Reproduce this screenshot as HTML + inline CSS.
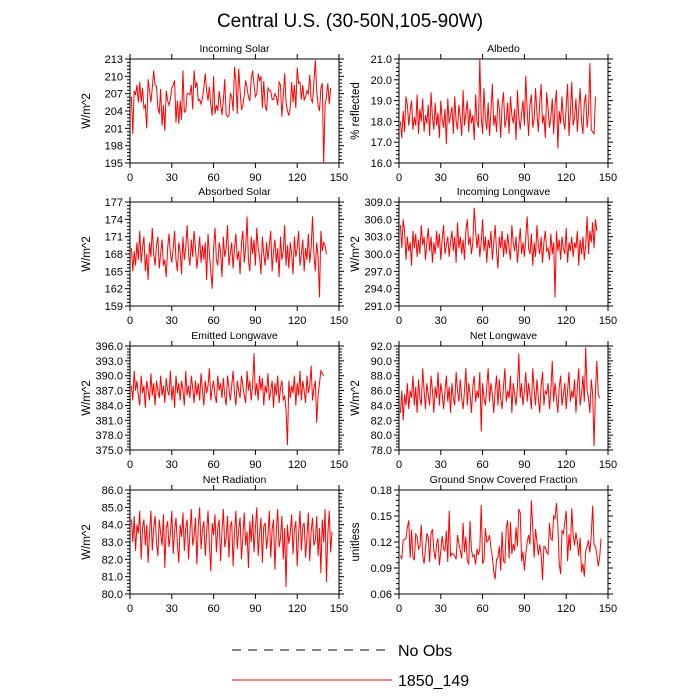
<!DOCTYPE html>
<html><head><meta charset="utf-8"><style>
html,body{margin:0;padding:0;background:#fff;}
svg{display:block;font-family:"Liberation Sans",Arial,sans-serif;}
</style></head><body>
<svg id="chart" width="700" height="700" viewBox="0 0 700 700">
<text x="350" y="27" text-anchor="middle" font-size="19">Central U.S. (30-50N,105-90W)</text>
<g id="panels"></g>
<g>
<line x1="232" y1="650" x2="392" y2="650" stroke="#000" stroke-width="1" stroke-dasharray="9,7"/>
<text x="398" y="656" font-size="16">No Obs</text>
<line x1="232" y1="680" x2="392" y2="680" stroke="#ff0000" stroke-width="1"/>
<text x="398" y="686" font-size="16">1850_149</text>
</g>
</svg>
<script>
const titles = ["Incoming Solar","Albedo","Absorbed Solar","Incoming Longwave","Emitted Longwave","Net Longwave","Net Radiation","Ground Snow Covered Fraction"];
const yTitles = ["W/m^2","% reflected","W/m^2","W/m^2","W/m^2","W/m^2","W/m^2","unitless"];
const yMins = [195,16,159,291,375,78,80,0.06];
const yMaxs = [213,21,177,309,396,92,86,0.18];
const ySteps = [3,1,3,3,3,2,1,0.03];
const yDecimals = [0,1,0,1,1,1,1,2];
const xTicks = [0,30,60,90,120,150];

const incomingSolar = [206.5,200,207.5,206.8,208.5,205.5,209,205.5,208,204.5,205,201,209.5,207.5,205.5,208,211,208.5,208.3,204.5,203.5,207.8,201.5,205,200.5,207.5,205.8,205,206,208,208.5,209.3,202,205.8,201.8,205.8,202.5,211,203.8,204,207,207,206.8,208.5,204.3,211,208,209,205.8,206,205.2,206.2,208,210.5,207.5,205.8,208.2,205,203.2,210,203.5,205,204,207.5,205.5,203.3,205.8,209.5,203.5,203,203.2,207,206.5,204,211.6,209.2,203.5,211.3,207.5,204.2,205,206.8,209.3,208,206.5,205.7,209.5,211,208.5,206.5,207,210.5,209.3,210,204.5,209.2,205,204,208,207.5,207.5,206,206,207,206.5,205,209,208.5,203,206.5,210.5,205.5,204,203.2,204.5,209,205.5,208.5,204.5,211.5,208.8,209,206,208.5,205.8,206.5,207.5,207,210.3,206,205.5,209,212.8,207.5,205,204,208,208.8,195,205,206.5,208.8,205.2,208];
const albedo = [18,17.2,18.5,17.5,19.2,18.8,17.8,18.5,19,17.6,18.2,17.8,19.3,17.4,18.6,18,19.1,17.5,18.3,17.9,18.8,17.3,19.4,18.2,17.6,18.9,17.8,18.4,17.2,19,18.1,17.7,18.6,16.9,19.1,17.9,18.3,18.7,17.4,19.2,18,17.6,18.8,18.2,17.3,19.5,17.8,18.4,19,17.5,18.6,17.9,18.3,17.1,19.3,18,17.7,21,18.2,17.4,19.6,18.1,17.6,18.9,17.3,18.5,19.8,17.8,18.3,17.5,19.1,18.6,17.2,18.8,19.4,17.7,18.1,18.9,17.4,19.2,18.3,17.9,18.6,17.1,19.5,18.2,17.6,18.4,19,17.8,20.2,18.5,17.3,18.8,19.3,17.7,18.1,19.6,18.4,17.5,18.9,19.8,17.9,18.3,17.2,19.4,18.6,17.7,18.2,19.1,17.4,18.8,19.5,16.7,18.5,17.9,19.2,18.1,17.6,18.7,19.8,17.3,18.4,19.9,17.8,18.2,19.1,17.5,18.6,19.6,18,17.4,18.9,19.3,17.7,18.4,20.8,17.6,17.5,17.4,19.2];
const absorbedSolar = [169,165,168.5,166,170,167,172,166.5,169,171,165,168,163.5,170,167.5,172.5,168,166,169.5,171,165.5,168,170.5,166,167,164,169,171.5,168,166.5,169,172,167,165,170,168.5,164.5,171,167,169,173,168,166,170.5,167.5,172,169,165.5,168,171,166.5,169.5,167,170,163.5,171.5,168,165,162,169,172.5,167,166,170,168.5,164,171,167.5,169,173,166,168,170,165.5,169,171.5,167,168.5,164.5,170,172,166.5,169,174.5,167,165,171,168,170.5,166,172.5,169,167.5,164.5,171,168,166,170,167,169.5,172,165,168.5,170.5,166.5,169,164,171,167,168.5,173,166,169.5,165.5,170,168,164.5,171,167.5,169,172,166,168,170.5,165,169,167,171.5,166.5,169,174.5,168,165,170,167.5,160.5,172,168.5,170,169.5,168];
const incomingLW = [305,301,306,304,299,303,300.5,302,298,304,301,303.5,299.5,302.5,300,305,301.5,303,299,302,304.5,300.5,303,298.5,302,300,304,301,303.5,299,302.5,305,300,301.5,303,299.5,302,304,300.5,303,298.5,305.5,301,303,300,302.5,299,304,306,301.5,303,300,302,308,304,301,303.5,299.5,302,306,300.5,303,298.5,302.5,301,304,299,302,305,300.5,297.5,303,301,304,299.5,302.5,300,303.5,301,299,305,302,300.5,303,298.5,301.5,304.5,300,302,299.5,303,306.5,301,300,303.5,298,302,299.5,305,301.5,300,303,298.5,302,304,300.5,301,299,303.5,300,302,292.5,304,300.5,302.5,299,303,301,300,304.5,298.5,302,300.5,303,299.5,302,301,304,298,302.5,300,303,299,301.5,306.5,300,304,302,305.5,301,306,304];
const emittedLW = [388,385,391,387,389,386,384,390,386.5,388,383.5,389,387,385,390.5,386,388.5,384,389,387,385.5,390,386,388,384.5,389.5,387,386,391,385,388,383.5,390,386.5,388.5,385,389,387,384,391,386,388,385.5,390,387.5,384.5,389,386,388.5,385,390.5,387,384,389,386.5,388,391.5,385,387.5,389,386,384.5,390,387,388.5,385.5,389.5,386,384,390,387.5,385,388,391,386.5,384,389,387,385.5,390,388,386,384.5,391,387,389,385,388,394.5,386,388.5,385,390,387,389.5,384,388,386.5,390.5,385,387,389,383.5,388.5,386,390,384.5,387.5,389,385,386,383,376,389,385.5,388,386.5,390,384,388.5,386,391,385,389,387,384.5,390,386.5,388,392,385,387.5,389,380.5,386,388.5,391,390.5,390];
const netLW = [83,86,82,85.5,84,87,83.5,86,85,88,84,86.5,83,87.5,85,84,89,86,83.5,87,85.5,84,88,86,83,86.5,85,88.5,84,87,85.5,83.5,86,88,84.5,86.5,83,87,85,84,88.5,86,84.5,87.5,85,83.5,86,89,84,87,85.5,83,86.5,88,84.5,86,85,88.5,80.5,87,85,84,86.5,89,84.5,87,85.5,83,86,88,84,87.5,85,83.5,86.5,89,84.5,86,85,88,83,87,85.5,84,86.5,91,85,87,84,86,88.5,84.5,87,85.5,83.5,89,86,84,87.5,85,83,86.5,88.5,84,86,85.5,87,83.5,86,90,84.5,87,85,83,86.5,88,84,85.5,87,83.5,86,88.5,84.5,86,85,87.5,83,86.5,89,84,85.5,88,84.5,91.8,86,85,83,87.5,85.5,78.5,86,90,85.5,85];
const netRadiation = [84.3,83,84.5,82.5,84,83.5,84.8,82,83.8,84.3,82.8,84,81.8,83.5,84.8,82.5,83.8,84.5,83,82.2,84.3,83.5,82.8,84.6,81.5,83.8,84.2,82.7,83.5,84.8,82.3,83.6,84.4,82.9,81.8,84,83.3,84.7,82.5,83.8,84.3,82,83.5,84.9,82.8,83.3,84.4,81.7,83.9,85,82.6,83.7,84.2,82.2,83.5,84.8,82.9,81.3,84.1,83.4,84.6,82.4,83.8,84.3,81.9,83.6,84.9,82.7,83.2,84.5,82.1,83.9,84.2,81.6,83.5,84.8,82.6,83.7,84.4,82,83.3,84.7,82.8,83.6,81.5,84.2,83,84.6,82.4,83.8,85,82.2,83.5,84.4,81.8,83.9,84.1,82.6,83.4,84.8,82.1,83.7,84.3,81.4,83.6,84.9,82.7,83.2,84.5,82,83.8,80.4,84,82.9,83.5,84.6,82.3,83.7,84.2,81.6,83.4,84.8,82.5,83.9,84.1,82.1,83.3,84.7,81.9,83.6,84.4,82.8,83.1,84.5,82.2,83.8,81.2,84.3,83,84.9,80.7,83.5,84.8,82.4,83.6];
const snowFraction = [0.104,0.101,0.122,0.123,0.124,0.137,0.145,0.102,0.134,0.103,0.099,0.129,0.126,0.112,0.115,0.140,0.104,0.095,0.112,0.130,0.125,0.097,0.130,0.135,0.110,0.100,0.118,0.124,0.093,0.110,0.127,0.112,0.110,0.133,0.097,0.156,0.103,0.107,0.106,0.104,0.100,0.128,0.118,0.110,0.101,0.142,0.108,0.126,0.098,0.095,0.144,0.111,0.103,0.105,0.094,0.112,0.105,0.112,0.163,0.095,0.099,0.136,0.120,0.122,0.128,0.113,0.103,0.085,0.077,0.100,0.102,0.115,0.087,0.132,0.098,0.096,0.137,0.145,0.101,0.143,0.106,0.118,0.110,0.137,0.115,0.158,0.154,0.098,0.109,0.087,0.106,0.120,0.128,0.117,0.168,0.137,0.102,0.135,0.120,0.105,0.117,0.106,0.076,0.115,0.114,0.108,0.106,0.142,0.124,0.122,0.150,0.147,0.165,0.140,0.095,0.083,0.133,0.130,0.143,0.156,0.098,0.129,0.110,0.159,0.128,0.116,0.131,0.120,0.104,0.125,0.085,0.095,0.080,0.110,0.115,0.122,0.108,0.128,0.162,0.117,0.115,0.105,0.092,0.102,0.124];
const series = [incomingSolar,albedo,absorbedSolar,incomingLW,emittedLW,netLW,netRadiation,snowFraction];

const NS = "http://www.w3.org/2000/svg";
const root = document.getElementById("panels");
const lefts = [130,399], tops = [59,202,346,490], W = 209, H = 104;
function mk(tag, attrs, parent){const e=document.createElementNS(NS,tag);for(const k in attrs)e.setAttribute(k,attrs[k]);parent.appendChild(e);return e;}
const slug = s => s.toLowerCase().replace(/[^a-z0-9]+/g,'-');

for(let p=0;p<8;p++){
  const x0 = lefts[p%2], y0 = tops[Math.floor(p/2)];
  const g = mk("g",{},root);
  
  
  const xs = v => x0 + v/150*W;
  const ys = v => y0 + H - (v - yMins[p])/(yMaxs[p]-yMins[p])*H;
  const t = mk("text",{x:x0+W/2,y:y0-7,"text-anchor":"middle","font-size":"10.5"},g);
  t.textContent = titles[p];
  
  
  const fr = mk("rect",{x:x0,y:y0,width:W,height:H,fill:"none",stroke:"#000","stroke-width":1},g);
  
  
  xTicks.forEach(v=>{
    const X = xs(v);
    mk("line",{x1:X,y1:y0+H,x2:X,y2:y0+H+5,stroke:"#000"},g);
    mk("line",{x1:X,y1:y0,x2:X,y2:y0-5,stroke:"#000"},g);
    const l = mk("text",{x:X,y:y0+H+18,"text-anchor":"middle","font-size":"11"},g);
    l.textContent = v;
    
    
  });
  const n = Math.round((yMaxs[p]-yMins[p])/ySteps[p]);
  for(let i=0;i<=n;i++){
    const v = yMins[p]+i*ySteps[p], Y = ys(v);
    mk("line",{x1:x0,y1:Y,x2:x0-5,y2:Y,stroke:"#000"},g);
    mk("line",{x1:x0+W,y1:Y,x2:x0+W+5,y2:Y,stroke:"#000"},g);
    const l = mk("text",{x:x0-7,y:Y+4,"text-anchor":"end","font-size":"11"},g);
    l.textContent = v.toFixed(yDecimals[p]);
    
    
    if(i<n){ for(let k=1;k<5;k++){ const Ym = ys(v+ySteps[p]*k/5);
      mk("line",{x1:x0,y1:Ym,x2:x0-3,y2:Ym,stroke:"#000"},g);
      mk("line",{x1:x0+W,y1:Ym,x2:x0+W+3,y2:Ym,stroke:"#000"},g);}}
  }
  const yt = mk("text",{x:0,y:0,"text-anchor":"middle","font-size":"11.5",transform:`translate(${x0-40},${y0+H/2}) rotate(-90)`},g);
  yt.textContent = yTitles[p];
  
  
  const d = series[p].map((v,i)=>(i?"L":"M")+xs(i+1).toFixed(2)+","+ys(v).toFixed(2)).join("");
  const path = mk("path",{d:d,fill:"none",stroke:"#ff0000","stroke-width":1},g);
  
  
}
</script>
</body></html>
